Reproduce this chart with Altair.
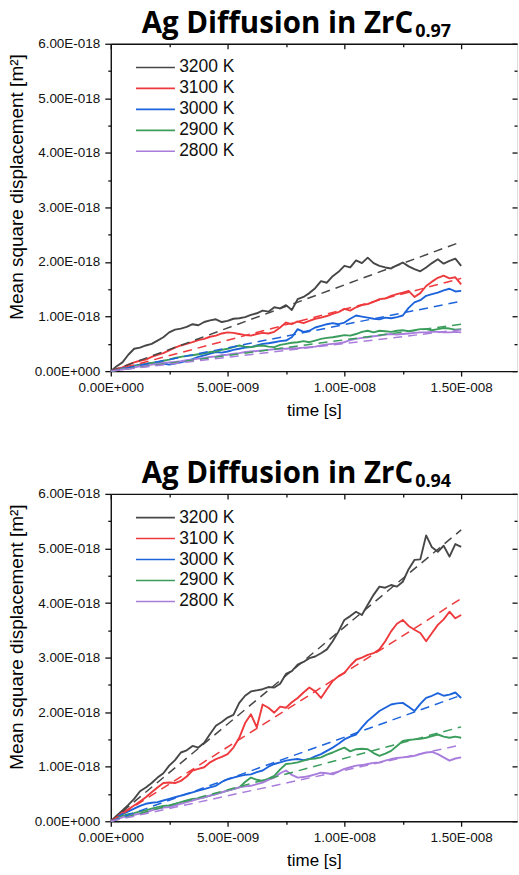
import altair as alt
import pandas as pd

# ---------------- data (time in 1e-9 s, MSD in 1e-18 m^2) ----------------
TEMPS = ["3200 K", "3100 K", "3000 K", "2900 K", "2800 K"]
COLORS = ["#474747", "#ee3a3d", "#1d64dc", "#3a9d5c", "#a97ddc"]

TIME = [0, 0.25, 0.5, 0.75, 1, 1.25, 1.5, 1.75, 2, 2.25, 2.5, 2.75, 3, 3.25, 3.5, 3.75,
        4, 4.25, 4.5, 4.75, 5, 5.25, 5.5, 5.75, 6, 6.25, 6.5, 6.75, 7, 7.25, 7.5, 7.75,
        8, 8.25, 8.5, 8.75, 9, 9.25, 9.5, 9.75, 10, 10.25, 10.5, 10.75, 11, 11.25, 11.5, 11.75,
        12, 12.25, 12.5, 12.75, 13, 13.25, 13.5, 13.75, 14, 14.25, 14.5, 14.75, 15]

# ZrC0.97 panel
TOP_3200 = [0, 0.09, 0.16, 0.30, 0.41, 0.43, 0.47, 0.50, 0.56, 0.62, 0.71, 0.76, 0.78, 0.81, 0.86, 0.84,
            0.90, 0.93, 0.95, 0.90, 0.92, 0.96, 0.97, 0.99, 1.03, 1.06, 1.11, 1.09, 1.17, 1.15, 1.21, 1.12,
            1.32, 1.36, 1.43, 1.52, 1.65, 1.62, 1.74, 1.82, 1.93, 1.90, 2.03, 1.98, 2.08, 1.98, 1.93, 1.90,
            1.88, 1.94, 1.99, 1.92, 1.87, 1.83, 1.90, 1.98, 2.05, 1.97, 2.02, 2.06, 1.93]
TOP_3100 = [0, 0.04, 0.07, 0.12, 0.16, 0.19, 0.21, 0.26, 0.30, 0.33, 0.38, 0.43, 0.47, 0.50, 0.53, 0.57,
            0.59, 0.63, 0.65, 0.69, 0.71, 0.70, 0.68, 0.66, 0.65, 0.68, 0.70, 0.69, 0.72, 0.80, 0.89, 0.86,
            0.91, 0.88, 0.92, 0.96, 0.98, 1.01, 1.05, 1.08, 1.14, 1.11, 1.17, 1.21, 1.23, 1.27, 1.32, 1.33,
            1.38, 1.41, 1.44, 1.47, 1.36, 1.43, 1.56, 1.64, 1.71, 1.75, 1.70, 1.72, 1.59]
TOP_3000 = [0, 0.03, 0.05, 0.08, 0.10, 0.12, 0.13, 0.15, 0.16, 0.14, 0.12, 0.14, 0.16, 0.19, 0.22, 0.26,
            0.29, 0.32, 0.35, 0.34, 0.36, 0.39, 0.41, 0.43, 0.44, 0.47, 0.50, 0.51, 0.53, 0.55, 0.56, 0.62,
            0.77, 0.72, 0.74, 0.80, 0.83, 0.86, 0.88, 0.86, 0.89, 0.96, 1.02, 1.00, 0.98, 0.96, 0.95, 0.98,
            0.97, 0.99, 1.02, 1.16, 1.26, 1.30, 1.38, 1.41, 1.44, 1.48, 1.51, 1.46, 1.47]
TOP_2900 = [0, 0.02, 0.04, 0.07, 0.09, 0.11, 0.13, 0.15, 0.16, 0.19, 0.21, 0.24, 0.26, 0.28, 0.29, 0.31,
            0.32, 0.35, 0.36, 0.39, 0.41, 0.44, 0.47, 0.45, 0.44, 0.46, 0.47, 0.45, 0.44, 0.48, 0.50, 0.52,
            0.53, 0.55, 0.53, 0.56, 0.59, 0.61, 0.62, 0.64, 0.66, 0.65, 0.68, 0.72, 0.74, 0.71, 0.74, 0.73,
            0.72, 0.74, 0.75, 0.73, 0.75, 0.77, 0.77, 0.75, 0.77, 0.79, 0.78, 0.76, 0.77]
TOP_2800 = [0, 0.02, 0.03, 0.05, 0.07, 0.09, 0.10, 0.12, 0.13, 0.15, 0.16, 0.17, 0.18, 0.20, 0.21, 0.23,
            0.24, 0.26, 0.27, 0.29, 0.30, 0.32, 0.33, 0.35, 0.36, 0.37, 0.38, 0.39, 0.40, 0.41, 0.41, 0.42,
            0.42, 0.43, 0.44, 0.45, 0.47, 0.49, 0.50, 0.51, 0.53, 0.57, 0.59, 0.61, 0.62, 0.64, 0.65, 0.67,
            0.68, 0.67, 0.68, 0.69, 0.70, 0.71, 0.71, 0.72, 0.72, 0.71, 0.71, 0.72, 0.71]

# ZrC0.94 panel
BOT_3200 = [0, 0.10, 0.20, 0.30, 0.41, 0.55, 0.62, 0.70, 0.80, 0.88, 1.02, 1.12, 1.26, 1.30, 1.38, 1.35,
            1.44, 1.60, 1.75, 1.82, 1.90, 1.95, 2.17, 2.30, 2.38, 2.40, 2.42, 2.46, 2.45, 2.52, 2.70, 2.75,
            2.87, 2.92, 2.99, 3.02, 3.08, 3.15, 3.30, 3.48, 3.69, 3.76, 3.84, 3.78, 3.97, 4.15, 4.30, 4.28,
            4.33, 4.30, 4.39, 4.62, 4.79, 4.80, 5.24, 5.02, 4.94, 5.05, 4.85, 5.08, 5.03]
BOT_3100 = [0, 0.08, 0.16, 0.22, 0.29, 0.36, 0.44, 0.53, 0.62, 0.70, 0.71, 0.70, 0.74, 0.82, 0.93, 0.96,
            0.99, 1.08, 1.14, 1.18, 1.23, 1.35, 1.53, 1.80, 1.96, 1.72, 2.14, 2.08, 1.99, 2.10, 2.08, 2.18,
            2.26, 2.36, 2.45, 2.38, 2.26, 2.42, 2.57, 2.66, 2.72, 2.85, 2.96, 3.00, 3.05, 3.08, 3.15, 3.30,
            3.48, 3.62, 3.69, 3.58, 3.51, 3.45, 3.30, 3.45, 3.60, 3.70, 3.84, 3.72, 3.78]
BOT_3000 = [0, 0.07, 0.13, 0.18, 0.23, 0.28, 0.32, 0.34, 0.35, 0.38, 0.41, 0.44, 0.47, 0.50, 0.53, 0.56,
            0.59, 0.62, 0.65, 0.72, 0.77, 0.80, 0.83, 0.85, 0.86, 0.90, 0.93, 1.00, 1.05, 1.08, 1.11, 1.13,
            1.14, 1.12, 1.14, 1.19, 1.23, 1.29, 1.35, 1.42, 1.50, 1.55, 1.59, 1.72, 1.84, 1.93, 2.02, 2.08,
            2.14, 2.16, 2.17, 2.10, 2.02, 2.15, 2.26, 2.30, 2.35, 2.30, 2.32, 2.36, 2.26]
BOT_2900 = [0, 0.05, 0.10, 0.13, 0.15, 0.18, 0.20, 0.23, 0.26, 0.28, 0.29, 0.32, 0.35, 0.38, 0.41, 0.42,
            0.44, 0.47, 0.50, 0.53, 0.56, 0.59, 0.62, 0.72, 0.80, 0.76, 0.74, 0.78, 0.83, 0.95, 1.05, 1.06,
            1.08, 1.11, 1.14, 1.15, 1.17, 1.22, 1.26, 1.31, 1.35, 1.28, 1.32, 1.33, 1.32, 1.25, 1.20, 1.24,
            1.29, 1.38, 1.47, 1.49, 1.50, 1.51, 1.53, 1.56, 1.59, 1.55, 1.53, 1.55, 1.53]
BOT_2800 = [0, 0.04, 0.07, 0.10, 0.12, 0.14, 0.16, 0.20, 0.23, 0.25, 0.26, 0.29, 0.32, 0.35, 0.38, 0.41,
            0.44, 0.47, 0.50, 0.53, 0.56, 0.59, 0.62, 0.64, 0.65, 0.68, 0.71, 0.76, 0.80, 0.88, 0.93, 0.85,
            0.80, 0.81, 0.83, 0.86, 0.89, 0.88, 0.86, 0.91, 0.96, 0.99, 1.02, 1.03, 1.05, 1.07, 1.08, 1.11,
            1.14, 1.16, 1.17, 1.18, 1.20, 1.23, 1.26, 1.27, 1.23, 1.17, 1.11, 1.15, 1.17]

# linear fits (dashed), from t=0 to t=15
FIT_T = [0, 15]
TOP_FIT_END = [2.37, 1.70, 1.28, 0.86, 0.76]
BOT_FIT_END = [5.34, 4.08, 2.31, 1.73, 1.40]

X_MAJOR = [0, 5, 10, 15]
X_MINOR = [2.5, 7.5, 12.5]
Y_MAJOR = [0, 1, 2, 3, 4, 5, 6]
Y_MINOR = [0.5, 1.5, 2.5, 3.5, 4.5, 5.5]

W, H = 407, 328
X_DOMAIN = [0, 17.39]
Y_DOMAIN = [0, 6]

LABEL_FONT = "Liberation Sans"
TITLE_FONT = "Open Sans"


def series_df(series):
    rows = []
    for temp, vals in zip(TEMPS, series):
        if len(vals) != len(TIME):
            print("length mismatch", temp, len(vals))
        for t, v in zip(TIME, vals):
            rows.append({"t": t, "v": v, "T": temp})
    return pd.DataFrame(rows)


def fit_df(ends):
    rows = []
    for temp, end in zip(TEMPS, ends):
        rows.append({"t": FIT_T[0], "v": 0.0, "T": temp})
        rows.append({"t": FIT_T[1], "v": end, "T": temp})
    return pd.DataFrame(rows)


xs = alt.Scale(domain=X_DOMAIN, nice=False, zero=False)
ys = alt.Scale(domain=Y_DOMAIN, nice=False)
cs = alt.Scale(domain=TEMPS, range=COLORS)

X_LABEL = ("datum.value == 0 ? '0.00E+000' : (datum.value < 10 ? format(datum.value, '.2f') + 'E-009'"
           " : format(datum.value / 10, '.2f') + 'E-008')")
Y_LABEL = "datum.value == 0 ? '0.00E+000' : format(datum.value, '.2f') + 'E-018'"

common = dict(grid=False, domainColor="#111", tickColor="#111", domainWidth=1.4, tickWidth=1.3)


def panel(series, fit_ends, sub):
    d = series_df(series)
    f = fit_df(fit_ends)

    x_major = alt.Axis(orient="bottom", values=X_MAJOR, labelExpr=X_LABEL, title="time [s]",
                       titleFont=LABEL_FONT, titleFontSize=17, titleFontWeight="normal",
                       titleColor="#000", titleY=31, titleBaseline="top",
                       labelFont=LABEL_FONT, labelFontSize=13.5, labelColor="#111",
                       labelPadding=4, tickSize=5, labelFlush=False, labelOverlap=False, **common)
    y_major = alt.Axis(orient="left", values=Y_MAJOR, labelExpr=Y_LABEL,
                       title="Mean square displacement [m²]",
                       titleFont=LABEL_FONT, titleFontSize=19, titleFontWeight="normal",
                       titleColor="#000", titleX=-84, titleY=143, titleAngle=270,
                       titleAlign="center", titleBaseline="bottom",
                       labelFont=LABEL_FONT, labelFontSize=13.5, labelColor="#111",
                       labelPadding=5, tickSize=6, labelFlush=False, labelOverlap=False, **common)

    lines = alt.Chart(d).mark_line(strokeWidth=1.9, strokeJoin="round").encode(
        x=alt.X("t:Q", scale=xs, axis=x_major),
        y=alt.Y("v:Q", scale=ys, axis=y_major),
        color=alt.Color("T:N", scale=cs, sort=TEMPS, legend=alt.Legend(
            orient="none", legendX=36, legendY=15, title=None,
            symbolType="M-5,0H5", symbolSize=61, symbolStrokeWidth=1.6,
            labelFont=LABEL_FONT, labelFontSize=17.5, labelColor="#111",
            labelOffset=15, rowPadding=2, padding=0)),
        order=alt.value(0),
    )

    fits = alt.Chart(f).mark_line(strokeWidth=1.5, strokeDash=[9, 6]).encode(
        x=alt.X("t:Q", scale=xs, axis=alt.Axis(orient="bottom", values=X_MINOR, labels=False,
                                                domain=False, tickSize=3, title=None, **common)),
        y=alt.Y("v:Q", scale=ys, axis=alt.Axis(orient="left", values=Y_MINOR, labels=False,
                                                domain=False, tickSize=3, title=None, **common)),
        color=alt.Color("T:N", scale=cs, legend=None),
        detail="T:N",
    )

    frame_major = alt.Chart(f).mark_point(opacity=0, size=1).encode(
        x=alt.X("t:Q", scale=xs, axis=alt.Axis(orient="bottom", offset=-H, values=X_MAJOR,
                                                labels=False, domain=True, tickSize=5, title=None, **common)),
        y=alt.Y("v:Q", scale=ys, axis=alt.Axis(orient="left", offset=-W, values=Y_MAJOR,
                                                labels=False, domain=False, tickSize=5, title=None, **common)),
    )
    frame_minor = alt.Chart(f).mark_point(opacity=0, size=1).encode(
        x=alt.X("t:Q", scale=xs, axis=alt.Axis(orient="bottom", offset=-H, values=X_MINOR,
                                                labels=False, domain=False, tickSize=3, title=None, **common)),
        y=alt.Y("v:Q", scale=ys, axis=alt.Axis(orient="left", offset=-W, values=Y_MINOR,
                                                labels=False, domain=False, tickSize=3, title=None, **common)),
    )

    one = pd.DataFrame({"k": [0]})
    title_main = alt.Chart(one).mark_text(
        text="Ag Diffusion in ZrC", font=TITLE_FONT, fontSize=29.5, fontWeight="bold",
        align="right", baseline="alphabetic", color="#000").encode(
        x=alt.value(303), y=alt.value(-10.7))
    title_sub = alt.Chart(one).mark_text(
        text=sub, font=TITLE_FONT, fontSize=18, fontWeight="bold",
        align="left", baseline="alphabetic", color="#000").encode(
        x=alt.value(305), y=alt.value(-7))

    return alt.layer(lines, fits, frame_major, frame_minor, title_main, title_sub).resolve_axis(
        x="independent", y="independent").properties(width=W, height=H)


top = panel([TOP_3200, TOP_3100, TOP_3000, TOP_2900, TOP_2800], TOP_FIT_END, "0.97")
bot = panel([BOT_3200, BOT_3100, BOT_3000, BOT_2900, BOT_2800], BOT_FIT_END, "0.94")

chart = alt.vconcat(top, bot, spacing=39).resolve_scale(color="independent").properties(
    padding={"left": 7, "top": 7, "right": 0, "bottom": 0}
).configure_view(strokeWidth=0).configure(background="white")

chart.save("out.html", embed_options={"renderer": "svg", "actions": False})
